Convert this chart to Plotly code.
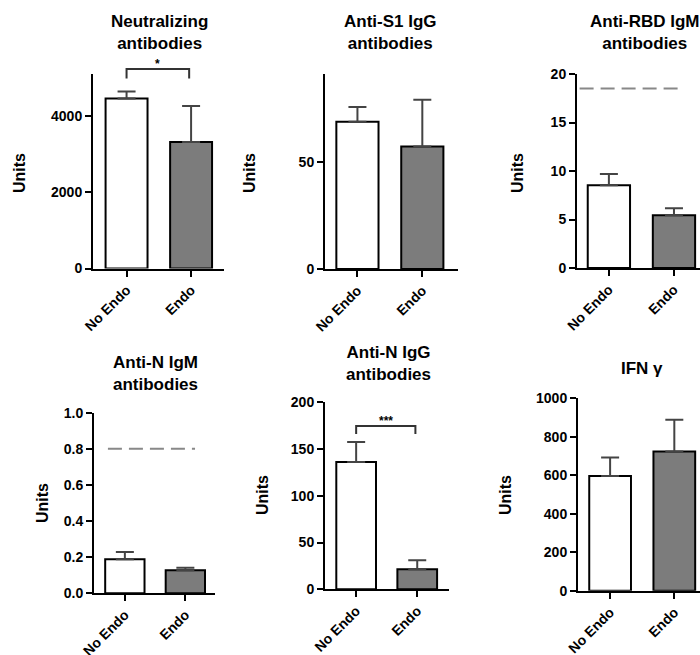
import plotly.graph_objects as go

W, H = 700, 655

categories = ["No Endo", "Endo"]

neut_mean = [4455, 3316]
neut_err = [185, 947]

s1_mean = [68.7, 57.2]
s1_err = [6.9, 21.8]

rbd_igm_mean = [8.54, 5.44]
rbd_igm_err = [1.14, 0.73]
rbd_igm_cutoff = 18.5

n_igm_mean = [0.188, 0.127]
n_igm_err = [0.041, 0.015]
n_igm_cutoff = 0.8

n_igg_mean = [136.2, 21.4]
n_igg_err = [21.3, 9.6]

ifn_mean = [596, 723]
ifn_err = [96, 165]

titles = ["Neutralizing<br>antibodies", "Anti-S1 IgG<br>antibodies", "Anti-RBD IgM<br>antibodies",
          "Anti-N IgM<br>antibodies", "Anti-N IgG<br>antibodies", "IFN γ"]

FONT = "Liberation Sans, Arial, sans-serif"
FILLS = ["white", "#7c7c7c"]

# panel layout in pixels: (x0, x1, ytop, ybottom)
boxes = [
    (93, 224, 74, 268.5),
    (325, 458, 74, 269),
    (577, 700, 74, 268),
    (94, 215, 412.7, 593.3),
    (325, 449, 402.3, 589.3),
    (578, 700, 398.3, 590.7),
]
xranges = [(-0.52, 1.51), (-0.5, 1.55), (-0.49, 1.40), (-0.51, 1.49), (-0.51, 1.52), (-0.5, 1.40)]
yranges = [(0, 5100), (0, 91), (0, 20), (0, 1), (0, 200), (0, 1000)]
yticks = [[0, 2000, 4000], [0, 50], [0, 5, 10, 15, 20], [0, 0.2, 0.4, 0.6, 0.8, 1.0],
          [0, 50, 100, 150, 200], [0, 200, 400, 600, 800, 1000]]
ytickfmt = ["", "", "", ".1f", "", ""]
means = [neut_mean, s1_mean, rbd_igm_mean, n_igm_mean, n_igg_mean, ifn_mean]
errs = [neut_err, s1_err, rbd_igm_err, n_igm_err, n_igg_err, ifn_err]
title_pos = [(159, 33), (390, 33), (645, 33), (155, 373), (388, 363), (642, 368)]
units_pos = [(20, 173), (250, 173), (518, 173), (42, 503), (262, 495), (505, 495)]

fig = go.Figure()
layout = dict(width=W, height=H, margin=dict(l=0, r=0, t=0, b=0, autoexpand=False),
              paper_bgcolor="white", plot_bgcolor="white", showlegend=False,
              font=dict(family=FONT, color="black"))
shapes = []
annotations = []

for i in range(6):
    n = i + 1
    xa = "x" if n == 1 else f"x{n}"
    ya = "y" if n == 1 else f"y{n}"
    x0, x1, yt, yb = boxes[i]
    fig.add_trace(go.Bar(
        x=categories, y=means[i], xaxis=xa, yaxis=ya, width=0.65,
        marker=dict(color=FILLS, line=dict(color="black", width=2)),
        error_y=dict(type="data", symmetric=False, array=errs[i], arrayminus=[0, 0],
                     color="#444", thickness=2, width=9),
        hoverinfo="skip",
    ))
    layout["xaxis" if n == 1 else f"xaxis{n}"] = dict(
        domain=[x0 / W, x1 / W], anchor=ya, range=list(xranges[i]),
        type="category", automargin=False, showline=True, linecolor="black", linewidth=2,
        ticks="outside", ticklen=6, tickwidth=2, tickcolor="black",
        tickangle=-45, tickfont=dict(size=14, weight="bold", family=FONT),
        showgrid=False, zeroline=False, fixedrange=True,
    )
    layout["yaxis" if n == 1 else f"yaxis{n}"] = dict(
        domain=[1 - yb / H, 1 - yt / H], anchor=xa, range=list(yranges[i]),
        tickvals=yticks[i], tickformat=ytickfmt[i], automargin=False,
        showline=True, linecolor="black", linewidth=2,
        ticks="outside", ticklen=6, tickwidth=2, tickcolor="black",
        tickfont=dict(size=14, weight="bold", family=FONT),
        showgrid=False, zeroline=False, fixedrange=True,
    )
    tx, ty = title_pos[i]
    annotations.append(dict(x=tx / W, y=1 - ty / H, xref="paper", yref="paper",
                            text=titles[i], showarrow=False, xanchor="center", yanchor="middle",
                            font=dict(size=17, weight="bold", family=FONT)))
    ux, uy = units_pos[i]
    annotations.append(dict(x=ux / W, y=1 - uy / H, xref="paper", yref="paper",
                            text="Units", textangle=-90, showarrow=False,
                            xanchor="center", yanchor="middle",
                            font=dict(size=16, weight="bold", family=FONT)))

# helpers mapping data values to axis-domain fractions
def xd(i, v):
    a, b = xranges[i]
    return (v - a) / (b - a)

def yd(i, v):
    a, b = yranges[i]
    return (v - a) / (b - a)

# cutoff dashed lines
for i, cut, xs in [(2, rbd_igm_cutoff, (-0.45, 1.1)), (3, n_igm_cutoff, (-0.28, 1.16))]:
    n = i + 1
    shapes.append(dict(type="line", xref=f"x{n}", yref=f"y{n}",
                       x0=xs[0], x1=xs[1], y0=cut, y1=cut,
                       line=dict(color="#888", width=2, dash="14px,7px")))

# significance brackets
for i, ytop, ybot, label in [(0, 5230, 4980, "*"), (4, 174.7, 166, "***")]:
    n = i + 1
    xr = "x domain" if n == 1 else f"x{n} domain"
    yr = "y domain" if n == 1 else f"y{n} domain"
    xa_, xb_ = xd(i, 0), xd(i, 0.97)
    ya_, yb_ = yd(i, ytop), yd(i, ybot)
    shapes.append(dict(type="path", xref=xr, yref=yr,
                       path=f"M {xa_} {yb_} L {xa_} {ya_} L {xb_} {ya_} L {xb_} {yb_}",
                       line=dict(color="#333", width=2)))
    annotations.append(dict(x=(xa_ + xb_) / 2, y=ya_, xref=xr, yref=yr, text=label,
                            showarrow=False, xanchor="center", yanchor="bottom", yshift=-4,
                            font=dict(size=12, weight="bold", family=FONT)))

layout["shapes"] = shapes
layout["annotations"] = annotations
fig.update_layout(**layout)
fig.write_html("out.html", config={"displayModeBar": False},
               post_script="document.body.style.margin='0';document.body.style.overflow='hidden';")
